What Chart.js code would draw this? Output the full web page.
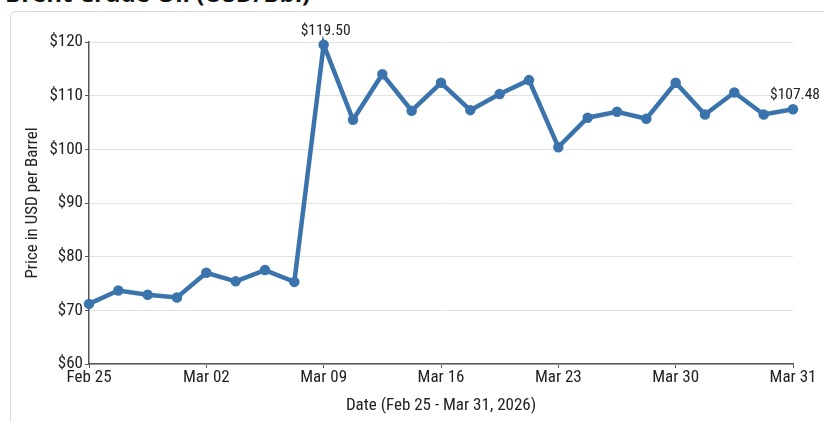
<!DOCTYPE html>
<html>
<head>
<meta charset="utf-8">
<title>Brent Crude Oil (USD/Bbl)</title>
<script src="https://cdn.jsdelivr.net/npm/chart.js@4/dist/chart.umd.min.js"></script>
<style>
  html, body { margin: 0; padding: 0; background: #fff; overflow: hidden; }
  body { width: 824px; height: 422px; position: relative; }
  h2 {
    position: absolute; left: 5px; top: -24px; margin: 0;
    font: bold 24px "Open Sans", "Noto Sans", sans-serif; color: #111;
    white-space: nowrap;
  }
  .card {
    position: absolute; left: 10px; top: 11px; width: 830px; height: 430px;
    border: 1px solid #dcdcdc; border-radius: 6px; background: #fff;
  }
  #wrap { position: absolute; left: 0; top: 0; width: 824px; height: 422px; }
</style>
</head>
<body>
<h2>Brent Crude Oil (USD/Bbl)</h2>
<div class="card"></div>
<div id="wrap"><canvas id="chart"></canvas></div>

<script>
// daily closes, Feb 25 - Mar 31, 2026
const prices = [
  71.2, 73.7, 72.9, 72.4, 77.0, 75.4, 77.5, 75.3,
  119.50, 105.5, 114.0, 107.2, 112.4, 107.3, 110.3, 112.9,
  100.4, 105.9, 107.0, 105.7, 112.4, 106.5, 110.6, 106.5, 107.48
];
// one tick label every fourth point
const tickLabels = ['Feb 25', 'Mar 02', 'Mar 09', 'Mar 16', 'Mar 23', 'Mar 30', 'Mar 31'];
const yTicks = [60, 70, 80, 90, 100, 110, 120];
const labelledPoints = [8, 24]; // $119.50 and $107.48

const FONT = '"Roboto Condensed", "Liberation Sans Narrow", Roboto, sans-serif';
const LINE = '#3b74ad';
const AXIS = '#555';

const positions = prices.map((_, i) => i);

// value labels above chosen points
const pointLabels = {
  id: 'pointLabels',
  afterDatasetsDraw(chart) {
    const ctx = chart.ctx;
    const meta = chart.getDatasetMeta(0);
    ctx.save();
    ctx.font = '15.5px ' + FONT;
    ctx.fillStyle = '#222';
    ctx.textAlign = 'center';
    ctx.textBaseline = 'bottom';
    labelledPoints.forEach(i => {
      const pt = meta.data[i];
      ctx.fillText('$' + prices[i].toFixed(2), pt.x + 2, pt.y - 6);
    });
    ctx.restore();
  }
};

new Chart(document.getElementById('chart'), {
  type: 'line',
  data: {
    labels: positions,
    datasets: [{
      data: prices,
      borderColor: LINE,
      backgroundColor: LINE,
      borderWidth: 4.5,
      pointRadius: 3,
      pointHoverRadius: 3,
      tension: 0,
      clip: false
    }]
  },
  options: {
    responsive: true,
    maintainAspectRatio: false,
    animation: false,
    layout: { padding: { left: 20, top: 42, right: 31, bottom: 2 } },
    plugins: {
      legend: { display: false },
      tooltip: { enabled: false }
    },
    scales: {
      x: {
        type: 'category',
        offset: false,
        grid: { display: true, drawOnChartArea: false, drawTicks: true, tickLength: 4, tickColor: AXIS },
        border: { display: true, color: AXIS, width: 1.5 },
        ticks: {
          autoSkip: false,
          maxRotation: 0,
          padding: 0,
          color: '#222',
          font: { family: FONT, size: 17 },
          callback: (v, i) => (i % 4 === 0 ? tickLabels[i / 4] : null)
        },
        title: {
          display: true,
          text: 'Date (Feb 25 - Mar 31, 2026)',
          color: '#222',
          font: { family: FONT, size: 17 },
          padding: { top: 0, bottom: 4 }
        },
        afterFit: s => { s.height = 56; }
      },
      y: {
        min: 60,
        max: 120,
        afterBuildTicks: s => { s.ticks = yTicks.map(v => ({ value: v })); },
        grid: { color: '#e2e2e2', lineWidth: 1, tickLength: 4, tickColor: AXIS },
        border: { display: true, color: AXIS, width: 1.5 },
        ticks: {
          padding: 2,
          color: '#222',
          font: { family: FONT, size: 17 },
          callback: v => '$' + v
        },
        title: {
          display: true,
          text: 'Price in USD per Barrel',
          color: '#222',
          font: { family: FONT, size: 17 },
          padding: { top: 3, bottom: 4 }
        },
        afterFit: s => { s.width = 69; }
      }
    }
  },
  plugins: [pointLabels]
});
</script>
</body>
</html>
